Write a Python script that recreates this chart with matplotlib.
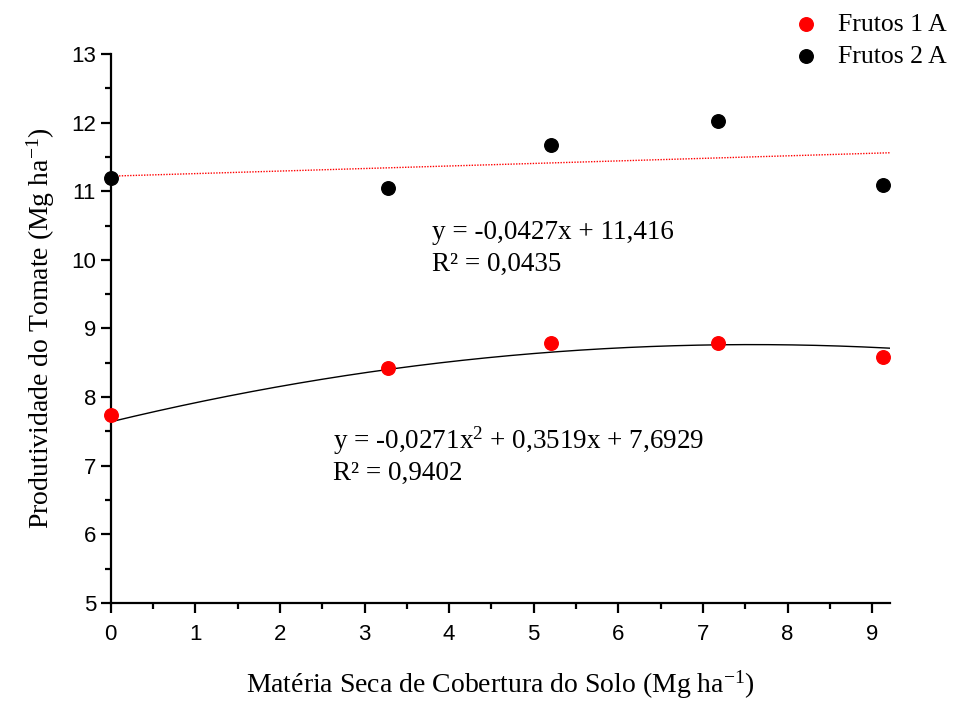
import numpy as np
import matplotlib
matplotlib.use("Agg")
import matplotlib.pyplot as plt
from matplotlib.ticker import MultipleLocator

plt.rcParams['font.family'] = ['Liberation Serif', 'DejaVu Serif']
plt.rcParams['mathtext.fontset'] = 'custom'
plt.rcParams['mathtext.rm'] = 'Liberation Serif'
plt.rcParams['mathtext.it'] = 'Liberation Serif:italic'

# data
materia_seca = [0, 3.28, 5.2, 7.18, 9.13]
frutos_1a = [7.74, 8.42, 8.79, 8.79, 8.59]
frutos_2a = [11.19, 11.04, 11.67, 12.03, 11.09]

# trend lines as drawn in the picture
quad_coef = [-0.0196, 0.297, 7.64]   # black curve
lin_coef = [0.037, 11.22]            # red dotted line

eq_lin = ["y = -0,0427x + 11,416", "R² = 0,0435"]
eq_quad = [r"y = -0,0271x$^{2}$ + 0,3519x + 7,6929", "R² = 0,9402"]

fig = plt.figure(figsize=(9.6, 7.04), dpi=100)
ax = fig.add_axes([0.1153, 0.1435, 0.8117, 0.7798])

xx = np.linspace(0, 9.21, 200)
ax.plot(xx, np.polyval(lin_coef, xx), color='red', ls=(0, (1, 1)), lw=1.0, zorder=2)
ax.plot(xx, np.polyval(quad_coef, xx), color='black', lw=1.0, zorder=2)

ax.scatter(materia_seca, frutos_1a, s=95, color='red', label='Frutos 1 A', zorder=3, clip_on=False)
ax.scatter(materia_seca, frutos_2a, s=95, color='black', label='Frutos 2 A', zorder=3, clip_on=False)

ax.set_xlim(0, 9.21)
ax.set_ylim(5, 13)
ax.xaxis.set_major_locator(MultipleLocator(1))
ax.xaxis.set_minor_locator(MultipleLocator(0.5))
ax.yaxis.set_major_locator(MultipleLocator(1))
ax.yaxis.set_minor_locator(MultipleLocator(0.5))

for s in ['top', 'right']:
    ax.spines[s].set_visible(False)
for s in ['left', 'bottom']:
    ax.spines[s].set_linewidth(1.6)

ax.tick_params(which='major', direction='out', length=7, width=1.6)
ax.tick_params(which='minor', direction='out', length=4, width=1.6)
ax.tick_params(axis='x', which='major', pad=8)
for lab in ax.get_xticklabels() + ax.get_yticklabels():
    lab.set_family('Liberation Sans')
    lab.set_fontsize(16)

ax.set_xlabel(r"Matéria Seca de Cobertura do Solo (Mg ha$^{-1}$)", fontsize=20, labelpad=17)
ax.set_ylabel(r"Produtividade do Tomate (Mg ha$^{-1}$)", fontsize=20, labelpad=10)

ax.text(3.8, 10.4, eq_lin[0], fontsize=19.5, va='center')
ax.text(3.8, 9.93, eq_lin[1], fontsize=19.5, va='center')
ax.text(2.63, 7.37, eq_quad[0], fontsize=19.5, va='center')
ax.text(2.63, 6.89, eq_quad[1], fontsize=19.5, va='center')

fig.legend(loc='upper right', bbox_to_anchor=(1.0, 1.0), frameon=False, fontsize=18.5,
           handletextpad=0.25, labelspacing=0.35, borderaxespad=0.3, borderpad=0.2)

fig.savefig('out.png', dpi=100)
